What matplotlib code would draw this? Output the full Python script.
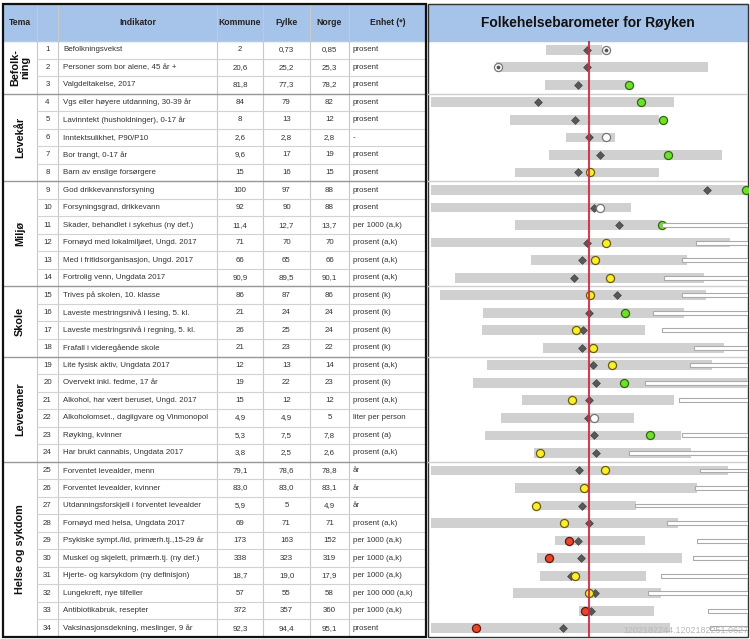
import matplotlib.pyplot as plt
from matplotlib.patches import Rectangle

plt.rcParams['font.family'] = ['Liberation Sans', 'DejaVu Sans']

# table contents
indicators = [
    'Befolkningsvekst', 'Personer som bor alene, 45 år +', 'Valgdeltakelse, 2017',
    'Vgs eller høyere utdanning, 30-39 år', 'Lavinntekt (husholdninger), 0-17 år',
    'Inntektsulikhet, P90/P10', 'Bor trangt, 0-17 år', 'Barn av enslige forsørgere',
    'God drikkevannsforsyning', 'Forsyningsgrad, drikkevann',
    'Skader, behandlet i sykehus (ny def.)', 'Fornøyd med lokalmiljøet, Ungd. 2017',
    'Med i fritidsorganisasjon, Ungd. 2017', 'Fortrolig venn, Ungdata 2017',
    'Trives på skolen, 10. klasse', 'Laveste mestringsnivå i lesing, 5. kl.',
    'Laveste mestringsnivå i regning, 5. kl.', 'Frafall i videregående skole',
    'Lite fysisk aktiv, Ungdata 2017', 'Overvekt inkl. fedme, 17 år',
    'Alkohol, har vært beruset, Ungd. 2017', 'Alkoholomset., dagligvare og Vinmonopol',
    'Røyking, kvinner', 'Har brukt cannabis, Ungdata 2017',
    'Forventet levealder, menn', 'Forventet levealder, kvinner',
    'Utdanningsforskjell i forventet levealder', 'Fornøyd med helsa, Ungdata 2017',
    'Psykiske sympt./lid, primærh.tj.,15-29 år', 'Muskel og skjelett, primærh.tj. (ny def.)',
    'Hjerte- og karsykdom (ny definisjon)', 'Lungekreft, nye tilfeller',
    'Antibiotikabruk, resepter', 'Vaksinasjonsdekning, meslinger, 9 år',
]
kommune = ['2', '20,6', '81,8', '84', '8', '2,6', '9,6', '15', '100', '92', '11,4', '71',
           '66', '90,9', '86', '21', '26', '21', '12', '19', '15', '4,9', '5,3', '3,8',
           '79,1', '83,0', '5,9', '69', '173', '338', '18,7', '57', '372', '92,3']
fylke = ['0,73', '25,2', '77,3', '79', '13', '2,8', '17', '16', '97', '90', '12,7', '70',
         '65', '89,5', '87', '24', '25', '23', '13', '22', '12', '4,9', '7,5', '2,5',
         '78,6', '83,0', '5', '71', '163', '323', '19,0', '55', '357', '94,4']
norge = ['0,85', '25,3', '78,2', '82', '12', '2,8', '19', '15', '88', '88', '13,7', '70',
         '66', '90,1', '86', '24', '24', '22', '14', '23', '12', '5', '7,8', '2,6',
         '78,8', '83,1', '4,9', '71', '152', '319', '17,9', '58', '360', '95,1']
enhet = ['prosent', 'prosent', 'prosent', 'prosent', 'prosent', '-', 'prosent', 'prosent',
         'prosent', 'prosent', 'per 1000 (a,k)', 'prosent (a,k)', 'prosent (a,k)',
         'prosent (a,k)', 'prosent (k)', 'prosent (k)', 'prosent (k)', 'prosent (k)',
         'prosent (a,k)', 'prosent (k)', 'prosent (a,k)', 'liter per person', 'prosent (a)',
         'prosent (a,k)', 'år', 'år', 'år', 'prosent (a,k)', 'per 1000 (a,k)',
         'per 1000 (a,k)', 'per 1000 (a,k)', 'per 100 000 (a,k)', 'per 1000 (a,k)', 'prosent']
tema = ['Befolk-\nning', 'Levekår', 'Miljø', 'Skole', 'Levevaner', 'Helse og sykdom']
tema_sizes = [3, 5, 6, 4, 6, 10]

# barometer (standardised scale, Norge = 0)
bar_lo = [-0.43, -0.93, -0.44, -1.58, -0.79, -0.23, -0.40, -0.74, -1.58, -1.58, -0.74, -1.58,
          -0.58, -1.34, -1.49, -1.06, -1.07, -0.46, -1.02, -1.16, -0.67, -0.88, -1.04, -0.55,
          -1.58, -0.74, -0.54, -1.58, -0.34, -0.52, -0.49, -0.76, -0.10, -1.58]
bar_hi = [0.13, 1.19, 0.40, 0.85, 0.70, 0.26, 1.33, 0.70, 1.60, 0.42, 0.73, 1.41, 0.98, 1.15,
          1.17, 0.95, 0.56, 1.35, 1.23, 1.60, 0.85, 0.45, 0.92, 1.02, 1.39, 1.08, 0.47, 0.89,
          0.56, 0.93, 0.57, 0.72, 0.65, 0.81]
fylke_pos = [-0.02, -0.02, -0.11, -0.51, -0.14, 0.00, 0.11, -0.11, 1.18, 0.05, 0.30, -0.02,
             -0.07, -0.15, 0.28, 0.00, -0.06, -0.07, 0.04, 0.07, 0.00, -0.01, 0.05, 0.07,
             -0.10, -0.05, -0.07, 0.00, -0.11, -0.08, -0.18, 0.06, 0.02, -0.26]
kommune_pos = [0.17, -0.91, 0.40, 0.52, 0.74, 0.17, 0.79, 0.01, 1.57, 0.11, 0.73, 0.17, 0.06,
               0.21, 0.01, 0.36, -0.13, 0.04, 0.23, 0.35, -0.17, 0.05, 0.61, -0.49, 0.16,
               -0.05, -0.53, -0.25, -0.20, -0.40, -0.14, 0.00, -0.04, -1.13]
status = ['dot', 'dot', 'g', 'g', 'g', 'w', 'g', 'y', 'g', 'w', 'g', 'y', 'y', 'y', 'y', 'g',
          'y', 'y', 'y', 'g', 'y', 'w', 'g', 'y', 'y', 'y', 'y', 'y', 'r', 'r', 'y', 'y',
          'r', 'r']
tail_lo = [None, None, None, None, None, None, None, None, None, None, 0.73, 1.07, 0.93, 0.75,
           0.93, 0.64, 0.73, 1.05, 1.01, 0.56, 0.90, None, 0.93, 0.40, 1.11, 1.06, 0.46, 0.78,
           1.08, 1.04, 0.72, 0.59, 1.19, 1.21]

fill = {'g': '#6ee02a', 'y': '#fbef2a', 'r': '#ec4526', 'w': 'white', 'dot': 'white'}
edge = {'g': '#2f6a10', 'y': '#6a5c10', 'r': '#5a1a10', 'w': '#777777', 'dot': '#777777'}

W, H = 750, 639
top, bot = 41, 637
n = len(indicators)
rh = (bot - top) / n
header_blue = '#a6c3e9'

fig = plt.figure(figsize=(7.5, 6.39), dpi=100)
ax = fig.add_axes([0, 0, 1, 1])
ax.set_xlim(0, W)
ax.set_ylim(H, 0)
ax.axis('off')

cols = [3, 37, 58, 217, 263, 310, 349, 426]

# headers
ax.add_patch(Rectangle((cols[0], 4), cols[-1] - cols[0], top - 4, color=header_blue, zorder=0))
ax.add_patch(Rectangle((428, 4), 320, top - 4, color=header_blue, zorder=0))
heads = ['Tema', '', 'Indikator', 'Kommune', 'Fylke', 'Norge', 'Enhet (*)']
for i, h in enumerate(heads):
    ax.text((cols[i] + cols[i + 1]) / 2, (4 + top) / 2, h, ha='center', va='center',
            fontsize=6.2, fontweight='bold', color='#222222')
ax.text(588, (4 + top) / 2, 'Folkehelsebarometer for Røyken', ha='center', va='center',
        fontsize=9.9, fontweight='bold', color='#111111')

# grid lines
for c in cols[1:-1]:
    ax.plot([c, c], [4, bot], color='#c8c8c8', lw=0.8, zorder=1)
for i in range(1, n):
    ax.plot([cols[1], cols[-1]], [top + i * rh] * 2, color='#d2d2d2', lw=0.8, zorder=1)
ax.plot([cols[0], cols[-1]], [top, top], color='#c8c8c8', lw=0.8, zorder=1)

# rows
for i in range(n):
    y = top + (i + 0.5) * rh
    kw = dict(fontsize=5.7, va='center', color='#333333')
    ax.text((cols[1] + cols[2]) / 2, y, str(i + 1), ha='center', **kw)
    ax.text(cols[2] + 5, y, indicators[i], ha='left', **kw)
    ax.text((cols[3] + cols[4]) / 2, y, kommune[i], ha='center', **kw)
    ax.text((cols[4] + cols[5]) / 2, y, fylke[i], ha='center', **kw)
    ax.text((cols[5] + cols[6]) / 2, y, norge[i], ha='center', **kw)
    ax.text(cols[6] + 4, y, enhet[i], ha='left', **kw)

# tema groups
start = 0
for name, size in zip(tema, tema_sizes):
    yc = top + (start + size / 2) * rh
    ax.text((cols[0] + cols[1]) / 2, yc, name, rotation=90, ha='center', va='center',
            fontsize=7.8, fontweight='bold', color='#111111', linespacing=0.95)
    start += size
    if start < n:
        ax.plot([cols[0], cols[-1]], [top + start * rh] * 2, color='#999999', lw=1.0, zorder=2)

# borders
ax.add_patch(Rectangle((cols[0], 4), cols[-1] - cols[0], bot - 4, fill=False,
                       edgecolor='#111111', lw=1.6, zorder=5))
ax.add_patch(Rectangle((428, 4), 320, bot - 4, fill=False, edgecolor='#333333', lw=1.0, zorder=5))

# barometer
axc = fig.add_axes([428 / W, 1 - bot / H, 320 / W, (bot - top) / H])
axc.set_xlim(-1.613, 1.587)
axc.set_ylim(n - 0.5, -0.5)
axc.axis('off')
rows = list(range(n))

axc.barh(rows, [h - l for l, h in zip(bar_lo, bar_hi)], left=bar_lo, height=0.56,
         color='#d0d0d0', zorder=1)

start = 0
for size in tema_sizes[:-1]:
    start += size
    axc.axhline(start - 0.5, color='#cfcfcf', lw=1.0, zorder=0.5)

for i in rows:
    c = status[i]
    axc.scatter(fylke_pos[i], i, marker='D', s=16, color='#585858', edgecolor='#3a3a3a',
                linewidth=0.4, zorder=3)
    axc.scatter(kommune_pos[i], i, s=34, color=fill[c], edgecolor=edge[c], linewidth=0.9,
                zorder=4)
    if c == 'dot':
        axc.scatter(kommune_pos[i], i, s=3, color='#555555', zorder=5)
    if tail_lo[i] is not None:
        axc.barh(i, 1.7 - tail_lo[i], left=tail_lo[i], height=0.22, color='white',
                 edgecolor='#aaaaaa', linewidth=0.8, zorder=4.5)

axc.axvline(0, color='#cc2a48', lw=1.5, alpha=0.9, zorder=6)
axc.text(1.0, 0.004, '1202182244.1202182251.0627', transform=axc.transAxes, ha='right',
         va='bottom', fontsize=6.5, color='#b8b8b8', zorder=7)

fig.savefig('out.png', dpi=100)
